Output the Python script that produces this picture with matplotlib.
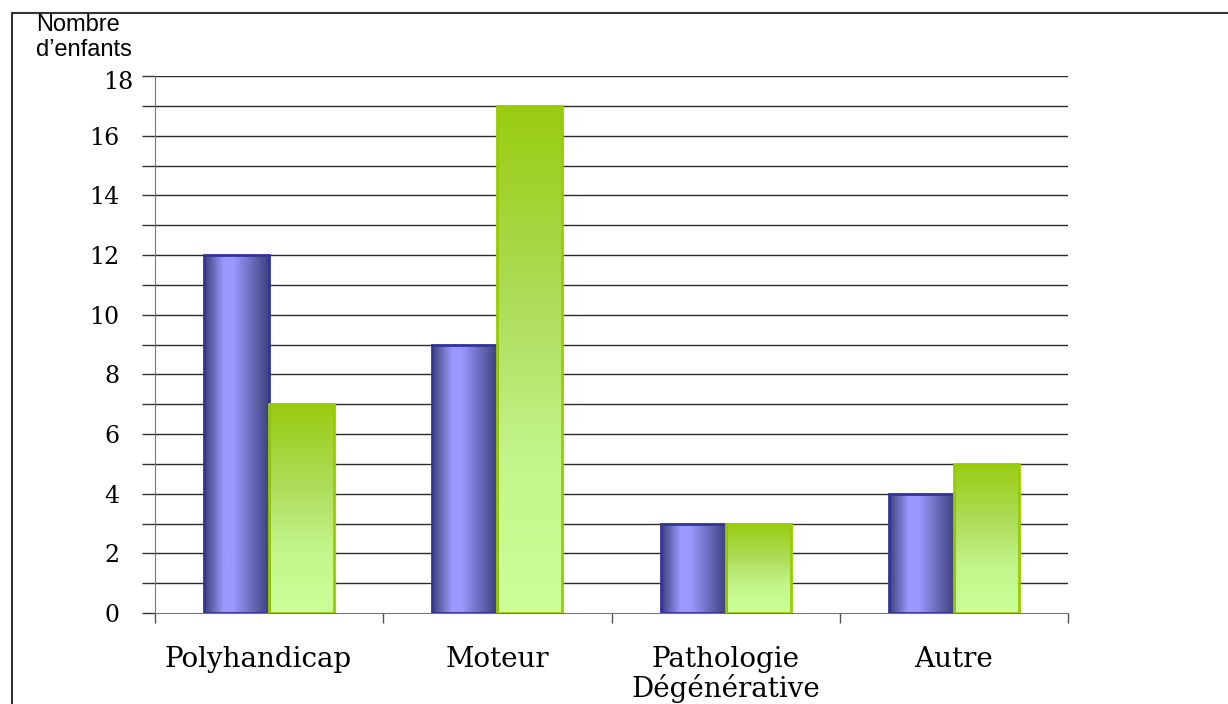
import numpy as np
import matplotlib.pyplot as plt
from matplotlib.colors import LinearSegmentedColormap
from matplotlib.patches import Rectangle
from matplotlib.transforms import ScaledTranslation

categories = ["Polyhandicap", "Moteur", "Pathologie\nDégénérative", "Autre"]
serie_bleue = [12, 9, 3, 4]
serie_verte = [7, 17, 3, 5]
yticks = [0, 2, 4, 6, 8, 10, 12, 14, 16, 18]

fig = plt.figure(figsize=(12.28, 7.04), dpi=100)
ax = fig.add_axes([155/1228, 1 - 613/704, (1068-155)/1228, (613-76)/704])

# cadre autour du graphique
fig.patches.append(Rectangle((12/1228, -0.1), 1.2, 1 - 13/704 + 0.1,
                             transform=fig.transFigure, fill=False,
                             edgecolor='#333333', linewidth=1.5))

x = np.arange(len(categories))
w = 0.285

# quadrillage horizontal tous les 1
for v in range(1, 19):
    ax.axhline(v, color='#2a2a2a', linewidth=1.0, zorder=1)

bleu = LinearSegmentedColormap.from_list(
    'bleu', [(0, '#3c3f7a'), (0.3, '#9999ff'), (0.45, '#9999ff'), (1, '#3c3f7a')])
vert = LinearSegmentedColormap.from_list(
    'vert', [(0, '#ccff99'), (0.3, '#c4f58c'), (0.6, '#aedd5c'), (1, '#99cc11')])
grad_h = np.linspace(0, 1, 256).reshape(1, -1)
grad_v = np.linspace(0, 1, 256).reshape(-1, 1)

barres_b = ax.bar(x - w/2, serie_bleue, w, facecolor='none', edgecolor='#333399', linewidth=2, zorder=3)
barres_v = ax.bar(x + w/2, serie_verte, w, facecolor='none', edgecolor='#99cc00', linewidth=2, zorder=3)

for b in barres_b:
    x0, h = b.get_x(), b.get_height()
    im = ax.imshow(grad_h, cmap=bleu, aspect='auto', extent=(x0, x0 + w, 0, h),
                   origin='lower', zorder=2)
    im.set_clip_path(b)
for b in barres_v:
    x0, h = b.get_x(), b.get_height()
    im = ax.imshow(grad_v, cmap=vert, aspect='auto', extent=(x0, x0 + w, 0, h),
                   origin='lower', zorder=2)
    im.set_clip_path(b)

ax.set_xlim(-0.5, 3.5)
ax.set_ylim(0, 18)

ax.set_yticks(range(0, 19), minor=True)
ax.set_yticks(yticks)
ax.set_yticklabels([str(t) for t in yticks], fontsize=17, family='DejaVu Serif')
ax.tick_params(axis='y', which='both', length=9.5, width=1, color='#333333', pad=16)
# le 18 est décalé vers la droite
lbl18 = ax.get_yticklabels()[-1]
lbl18.set_transform(lbl18.get_transform() + ScaledTranslation(14/100, -4/100, fig.dpi_scale_trans))

ax.set_xticks(x)
ax.set_xticklabels(categories, fontsize=20, family='DejaVu Serif', linespacing=1.02)
ax.tick_params(axis='x', which='major', length=0, pad=24)
ax.set_xticks([-0.5, 0.5, 1.5, 2.5, 3.5], minor=True)
ax.tick_params(axis='x', which='minor', length=7, width=1, color='#555555', direction='out')
# Polyhandicap un peu vers la gauche
lbl0 = ax.get_xticklabels()[0]
lbl0.set_transform(lbl0.get_transform() + ScaledTranslation(-11/100, 0, fig.dpi_scale_trans))

for s in ['top', 'right']:
    ax.spines[s].set_visible(False)
ax.spines['left'].set_color('#777777')
ax.spines['bottom'].set_color('#777777')

fig.text(36/1228, 1 - 14/704, "Nombre\nd\u2019enfants", fontsize=17,
         family='Liberation Sans', va='top', ha='left', linespacing=1.2)

fig.savefig('out.png', dpi=100)
